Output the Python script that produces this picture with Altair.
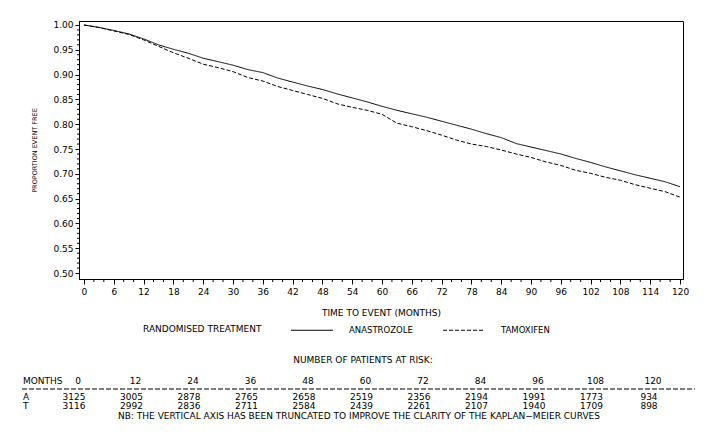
import altair as alt
import pandas as pd

# ---- data ----
months = [0, 3, 6, 9, 12, 15, 18, 21, 24, 27, 30, 33, 36, 39, 42, 45, 48, 51, 54, 57, 60,
          63, 66, 69, 72, 75, 78, 81, 84, 87, 90, 93, 96, 99, 102, 105, 108, 111, 114, 117, 120]
anastrozole = [1.000, 0.995, 0.989, 0.982, 0.972, 0.960, 0.951, 0.943, 0.933, 0.926, 0.919,
               0.910, 0.904, 0.893, 0.885, 0.877, 0.870, 0.861, 0.853, 0.845, 0.836,
               0.828, 0.821, 0.814, 0.806, 0.798, 0.790, 0.781, 0.773, 0.761, 0.754,
               0.747, 0.740, 0.731, 0.723, 0.714, 0.706, 0.698, 0.691, 0.684, 0.674]
tamoxifen = [1.000, 0.995, 0.988, 0.981, 0.970, 0.957, 0.944, 0.933, 0.921, 0.914, 0.906,
             0.894, 0.887, 0.876, 0.868, 0.860, 0.852, 0.841, 0.834, 0.828, 0.820,
             0.802, 0.795, 0.787, 0.778, 0.768, 0.760, 0.755, 0.748, 0.740, 0.733,
             0.724, 0.717, 0.707, 0.701, 0.693, 0.687, 0.678, 0.671, 0.664, 0.653]
treatments = ["ANASTROZOLE", "TAMOXIFEN"]

risk_months = [0, 12, 24, 36, 48, 60, 72, 84, 96, 108, 120]
risk_a = [3125, 3005, 2878, 2765, 2658, 2519, 2356, 2194, 1991, 1773, 934]
risk_t = [3116, 2992, 2836, 2711, 2584, 2439, 2261, 2107, 1940, 1709, 898]

x_ticks = list(range(0, 121, 6))
x_minor = [m for m in range(0, 121, 2) if m % 6]
y_ticks = [round(0.50 + 0.05 * i, 2) for i in range(11)]
y_minor = [round(0.50 + 0.01 * i, 2) for i in range(51) if i % 5]

FONT = "DejaVu Sans"
W, H = 604, 258

curve_df = pd.concat([
    pd.DataFrame({"month": months, "value": anastrozole, "treatment": treatments[0]}),
    pd.DataFrame({"month": months, "value": tamoxifen, "treatment": treatments[1]}),
])
risk_df = pd.DataFrame({"month": risk_months, "A": risk_a, "T": risk_t,
                        "label": [str(m) for m in risk_months]})

xscale = alt.Scale(domain=[-1, 120.6], nice=False, zero=False)
yscale = alt.Scale(domain=[0.488, 1.008], nice=False, zero=False)

curves = alt.Chart(curve_df).mark_line(color="black", strokeWidth=1).encode(
    x=alt.X("month:Q", scale=xscale,
            axis=alt.Axis(values=x_ticks, title="TIME TO EVENT (MONTHS)", grid=False,
                          tickSize=5, labelPadding=3, labelFont=FONT, labelFontSize=9,
                          titleFont=FONT, titleFontSize=9, titleFontWeight="normal",
                          titlePadding=12, domainColor="black", tickColor="black",
                          labelColor="black", titleColor="black", labelFlush=False)),
    y=alt.Y("value:Q", scale=yscale,
            axis=alt.Axis(values=y_ticks, format=".2f", title="PROPORTION EVENT FREE",
                          grid=False, tickSize=4, labelPadding=2, labelFont=FONT,
                          labelFontSize=9, titleFont=FONT, titleFontSize=6.5,
                          titleFontWeight="normal", titleX=-45, titleY=H / 2,
                          titleAngle=270, titleAlign="center", titleBaseline="middle",
                          domainColor="black", tickColor="black", labelColor="black",
                          titleColor="black", labelFlush=False)),
    strokeDash=alt.StrokeDash(
        "treatment:N",
        scale=alt.Scale(domain=treatments, range=[[1, 0], [4, 2]]),
        legend=alt.Legend(orient="none", legendX=64, legendY=303, direction="horizontal",
                          title="RANDOMISED TREATMENT", titleOrient="left",
                          titleBaseline="middle",
                          titleFont=FONT, titleFontSize=9, titleFontWeight="normal",
                          titleColor="black", titlePadding=44,
                          labelFont=FONT, labelFontSize=8.5, labelColor="black",
                          symbolType="M-4,0H4", symbolSize=110, symbolStrokeWidth=1,
                          symbolStrokeColor="black", labelOffset=31, columnPadding=28)),
)

minor_x = alt.Chart(pd.DataFrame({"month": x_minor})).mark_rule(
    color="black", strokeWidth=1).encode(
    x=alt.X("month:Q", scale=xscale, axis=None),
    y=alt.value(H), y2=alt.value(H + 3))

minor_y = alt.Chart(pd.DataFrame({"value": y_minor})).mark_rule(
    color="black", strokeWidth=1).encode(
    y=alt.Y("value:Q", scale=yscale, axis=None),
    x=alt.value(0), x2=alt.value(-2))

main = alt.layer(curves, minor_x, minor_y).resolve_axis(x="independent", y="independent")

tscale = alt.Scale(domain=[0, 120], range=[-1, 574])
txt = dict(font=FONT, fontSize=9, color="black", baseline="middle")

header = alt.Chart(risk_df).mark_text(**txt).encode(
    x=alt.X("month:Q", scale=tscale, axis=None), y=alt.value(360), text="label:N")
row_a = alt.Chart(risk_df).mark_text(dx=-4, **txt).encode(
    x=alt.X("month:Q", scale=tscale, axis=None), y=alt.value(376), text="A:Q")
row_t = alt.Chart(risk_df).mark_text(dx=-4, **txt).encode(
    x=alt.X("month:Q", scale=tscale, axis=None), y=alt.value(385), text="T:Q")

one = pd.DataFrame({"t": ["NUMBER OF PATIENTS AT RISK:"], "m": ["MONTHS"], "a": ["A"],
                    "b": ["T"],
                    "nb": ["NB: THE VERTICAL AXIS HAS BEEN TRUNCATED TO IMPROVE THE CLARITY OF THE KAPLAN\u2212MEIER CURVES"]})
base = alt.Chart(one)
title_t = base.mark_text(align="center", **txt).encode(
    x=alt.value(284), y=alt.value(339), text="t:N")
months_t = base.mark_text(align="left", **txt).encode(
    x=alt.value(-56), y=alt.value(360), text="m:N")
a_t = base.mark_text(align="left", **txt).encode(
    x=alt.value(-56), y=alt.value(376), text="a:N")
b_t = base.mark_text(align="left", **txt).encode(
    x=alt.value(-56), y=alt.value(385), text="b:N")
nb_t = base.mark_text(align="center", **txt).encode(
    x=alt.value(280), y=alt.value(395), text="nb:N")
sep = base.mark_rule(color="black", strokeWidth=1, strokeDash=[5, 2]).encode(
    x=alt.value(-57), x2=alt.value(616), y=alt.value(368))

table = alt.layer(header, row_a, row_t, title_t, months_t, a_t, b_t, nb_t, sep)

chart = alt.layer(main, table).resolve_scale(x="independent").properties(
    width=W, height=H,
    padding={"left": 79, "top": 21, "right": 41, "bottom": 155},
    autosize=alt.AutoSizeParams(type="none"),
    background="white",
).configure_view(stroke="black", strokeWidth=1)

chart.save("out.html", embed_options={"renderer": "svg", "actions": False})
